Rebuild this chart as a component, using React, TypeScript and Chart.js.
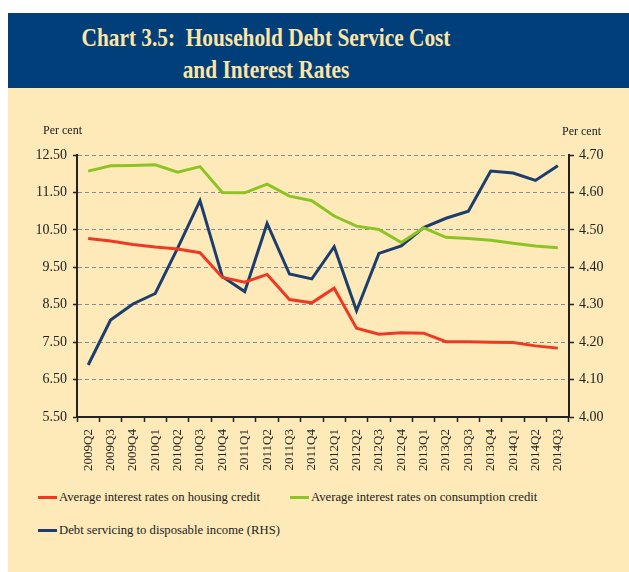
import React, { useEffect, useRef } from "react";
import { Chart, registerables } from "chart.js";

Chart.register(...registerables);

const categories = [
  "2009Q2", "2009Q3", "2009Q4", "2010Q1", "2010Q2", "2010Q3", "2010Q4",
  "2011Q1", "2011Q2", "2011Q3", "2011Q4", "2012Q1", "2012Q2", "2012Q3",
  "2012Q4", "2013Q1", "2013Q2", "2013Q3", "2013Q4", "2014Q1", "2014Q2", "2014Q3",
];

const housingRates = [
  10.27, 10.2, 10.11, 10.04, 9.99, 9.89, 9.23, 9.1, 9.31, 8.64, 8.55,
  8.94, 7.87, 7.71, 7.75, 7.74, 7.51, 7.51, 7.5, 7.49, 7.4, 7.34,
];

const consumptionRates = [
  12.07, 12.21, 12.22, 12.24, 12.04, 12.19, 11.5, 11.49, 11.72, 11.4, 11.28,
  10.87, 10.6, 10.51, 10.16, 10.55, 10.3, 10.27, 10.22, 10.14, 10.07, 10.02,
];

const debtServicing = [
  4.139, 4.259, 4.302, 4.33, 4.451, 4.578, 4.375, 4.335, 4.517, 4.382, 4.369,
  4.455, 4.284, 4.437, 4.457, 4.506, 4.531, 4.55, 4.657, 4.652, 4.632, 4.671,
];

const seriesNames = [
  "Average interest rates on housing credit",
  "Average interest rates on consumption credit",
  "Debt servicing to disposable income (RHS)",
];
const seriesColors = ["#ee3a22", "#8cc424", "#1c3e6e"];

const titleLines = ["Chart 3.5:  Household Debt Service Cost", "and Interest Rates"];
const axisUnit = "Per cent";

const SERIF = "'Liberation Serif', 'Times New Roman', serif";

export default function App() {
  const canvasRef = useRef<HTMLCanvasElement | null>(null);

  useEffect(() => {
    if (!canvasRef.current) return;
    const chart = new Chart(canvasRef.current, {
      type: "line",
      data: {
        labels: categories,
        datasets: [
          { label: seriesNames[0], data: housingRates, borderColor: seriesColors[0], yAxisID: "y" },
          { label: seriesNames[1], data: consumptionRates, borderColor: seriesColors[1], yAxisID: "y" },
          { label: seriesNames[2], data: debtServicing, borderColor: seriesColors[2], yAxisID: "y1" },
        ].map((d) => ({ ...d, borderWidth: 3, pointRadius: 0, tension: 0, fill: false })),
      },
      options: {
        animation: false,
        responsive: false,
        maintainAspectRatio: false,
        layout: { padding: { top: 67, left: 0, right: 0, bottom: 0 } },
        plugins: { legend: { display: false }, tooltip: { enabled: false } },
        scales: {
          x: {
            type: "category",
            offset: true,
            grid: { display: true, drawOnChartArea: false, offset: true, tickLength: 5, tickColor: "#222", tickWidth: 1.5 },
            border: { display: true, color: "#222", width: 2 },
            ticks: {
              minRotation: 90,
              maxRotation: 90,
              autoSkip: false,
              padding: 7,
              color: "#222",
              font: { family: SERIF, size: 13 },
            },
            afterFit: (s: any) => { s.height = 63; },
          },
          y: {
            position: "left",
            min: 5.5,
            max: 12.5,
            ticks: {
              stepSize: 1,
              padding: 6,
              color: "#222",
              font: { family: SERIF, size: 14 },
              callback: (v: any) => Number(v).toFixed(2),
            },
            grid: { color: "#8a8a9a", lineWidth: 1, tickLength: 4, tickColor: "#222", tickWidth: 1.5 },
            border: { display: true, color: "#222", width: 2, dash: [4, 3] },
            afterFit: (s: any) => { s.width = 69; },
          },
          y1: {
            position: "right",
            min: 4.0,
            max: 4.7,
            ticks: {
              stepSize: 0.1,
              padding: 5,
              color: "#222",
              font: { family: SERIF, size: 14 },
              callback: (v: any) => Number(v).toFixed(2),
            },
            grid: { drawOnChartArea: false, tickLength: 5, tickColor: "#222", tickWidth: 1.5 },
            border: { display: true, color: "#222", width: 2 },
            afterFit: (s: any) => { s.width = 60; },
          },
        },
      },
    });
    return () => chart.destroy();
  }, []);

  const legendItems = [
    { left: 30, top: 409 },
    { left: 282, top: 409 },
    { left: 30, top: 442 },
  ];

  return (
    <div style={{ position: "absolute", left: 8, top: 13, width: 621, height: 559 }}>
      <div style={{ position: "absolute", left: 0, top: 0, width: 621, height: 75, background: "#013f7a" }}>
        {titleLines.map((t, i) => (
          <div
            key={i}
            style={{
              position: "absolute",
              left: 258 - 300,
              width: 600,
              top: i === 0 ? 10 : 42,
              textAlign: "center",
              color: "#fde5a6",
              fontFamily: SERIF,
              fontWeight: "bold",
              fontSize: 26,
              lineHeight: "30px",
              transform: "scaleX(0.82)",
              whiteSpace: "pre",
            }}
          >
            {t}
          </div>
        ))}
      </div>
      <div style={{ position: "absolute", left: 0, top: 75, width: 621, height: 484, background: "#fee9b8" }}>
        <canvas ref={canvasRef} width={621} height={392} style={{ position: "absolute", left: 0, top: 0, width: 621, height: 392 }} />
        <div style={{ position: "absolute", left: 35, top: 35, fontFamily: SERIF, fontSize: 12, color: "#222" }}>{axisUnit}</div>
        <div style={{ position: "absolute", left: 554, top: 36, fontFamily: SERIF, fontSize: 12, color: "#222" }}>{axisUnit}</div>
        {legendItems.map((p, i) => (
          <div key={i} style={{ position: "absolute", left: p.left, top: p.top - 10, height: 20, display: "flex", alignItems: "center", whiteSpace: "nowrap" }}>
            <div style={{ width: 19, height: 3, background: seriesColors[i], marginRight: 2 }} />
            <span style={{ fontFamily: SERIF, fontSize: 12.7, color: "#222" }}>{seriesNames[i]}</span>
          </div>
        ))}
      </div>
    </div>
  );
}
